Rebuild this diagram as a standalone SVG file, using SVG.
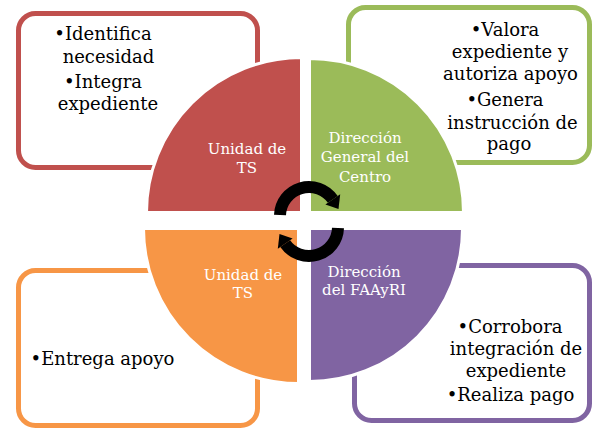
<svg xmlns="http://www.w3.org/2000/svg" width="595" height="431" viewBox="0 0 595 431">
<style>
.box{fill:#fff;stroke-width:5}
.q{stroke:#fff;stroke-width:3}
.t{font-family:"DejaVu Serif","Liberation Serif",serif;font-size:18px;fill:#000;text-anchor:middle}
.ql{font-family:"DejaVu Serif","Liberation Serif",serif;font-size:15px;fill:#fff;text-anchor:middle}
.arc{fill:none;stroke:#000;stroke-width:12}
</style>
<rect width="595" height="431" fill="#fff"/>
<g id="box-red"><rect class="box" x="18.5" y="13.5" width="239" height="154" rx="17" stroke="#C0504D"/>
<text class="t"><tspan x="103" y="40">•Identifica</tspan><tspan x="108.5" y="63">necesidad</tspan><tspan x="103" y="88">•Integra</tspan><tspan x="108" y="110">expediente</tspan></text></g>
<g id="box-green"><rect class="box" x="348.5" y="7.5" width="241" height="155" rx="17" stroke="#9BBB59"/>
<text class="t"><tspan x="505" y="36">•Valora</tspan><tspan x="510" y="58">expediente y</tspan><tspan x="510.5" y="80">autoriza apoyo</tspan><tspan x="505" y="106">•Genera</tspan><tspan x="512.5" y="129">instrucción de</tspan><tspan x="509" y="150">pago</tspan></text></g>
<g id="box-orange"><rect class="box" x="18.5" y="270.5" width="239" height="155" rx="17" stroke="#F79646"/>
<text class="t"><tspan x="102.5" y="365">•Entrega apoyo</tspan></text></g>
<g id="box-purple"><rect class="box" x="354.5" y="265.5" width="235" height="155" rx="17" stroke="#8064A2"/>
<text class="t"><tspan x="510" y="333">•Corrobora</tspan><tspan x="516" y="355">integración de</tspan><tspan x="516" y="377">expediente</tspan><tspan x="510.5" y="401">•Realiza pago</tspan></text></g>
<g id="q-red"><path class="q" fill="#C0504D" d="M301.5,212.5 L146.5,212.5 A155,155 0 0 1 301.5,57.5 Z"/>
<text class="ql"><tspan x="247" y="154">Unidad de</tspan><tspan x="247" y="173">TS</tspan></text></g>
<g id="q-green"><path class="q" fill="#9BBB59" d="M309.5,212.5 L309.5,58.5 A154,154 0 0 1 463.5,212.5 Z"/>
<text class="ql"><tspan x="365" y="143">Dirección</tspan><tspan x="365" y="162">General del</tspan><tspan x="365" y="182">Centro</tspan></text></g>
<g id="q-orange"><path class="q" fill="#F79646" d="M298.5,228.5 L298.5,383.5 A155,155 0 0 1 143.5,228.5 Z"/>
<text class="ql"><tspan x="243" y="280">Unidad de</tspan><tspan x="243" y="298">TS</tspan></text></g>
<g id="q-purple"><path class="q" fill="#8064A2" d="M309.5,228.5 L462.5,228.5 A153,153 0 0 1 309.5,381.5 Z"/>
<text class="ql"><tspan x="364" y="277">Dirección</tspan><tspan x="364" y="295">del FAAyRI</tspan></text></g>
<g id="connectors">
<path class="arc" d="M280,215 A29,29 0 0 1 332.8,199.4"/>
<polygon points="340.2,194.2 338.5,209 325.4,204.6"/>
<path class="arc" d="M338,228 A29,29 0 0 1 285.2,243.6"/>
<polygon points="277.8,248.8 279.5,234 292.6,238.4"/>
</g>
</svg>
